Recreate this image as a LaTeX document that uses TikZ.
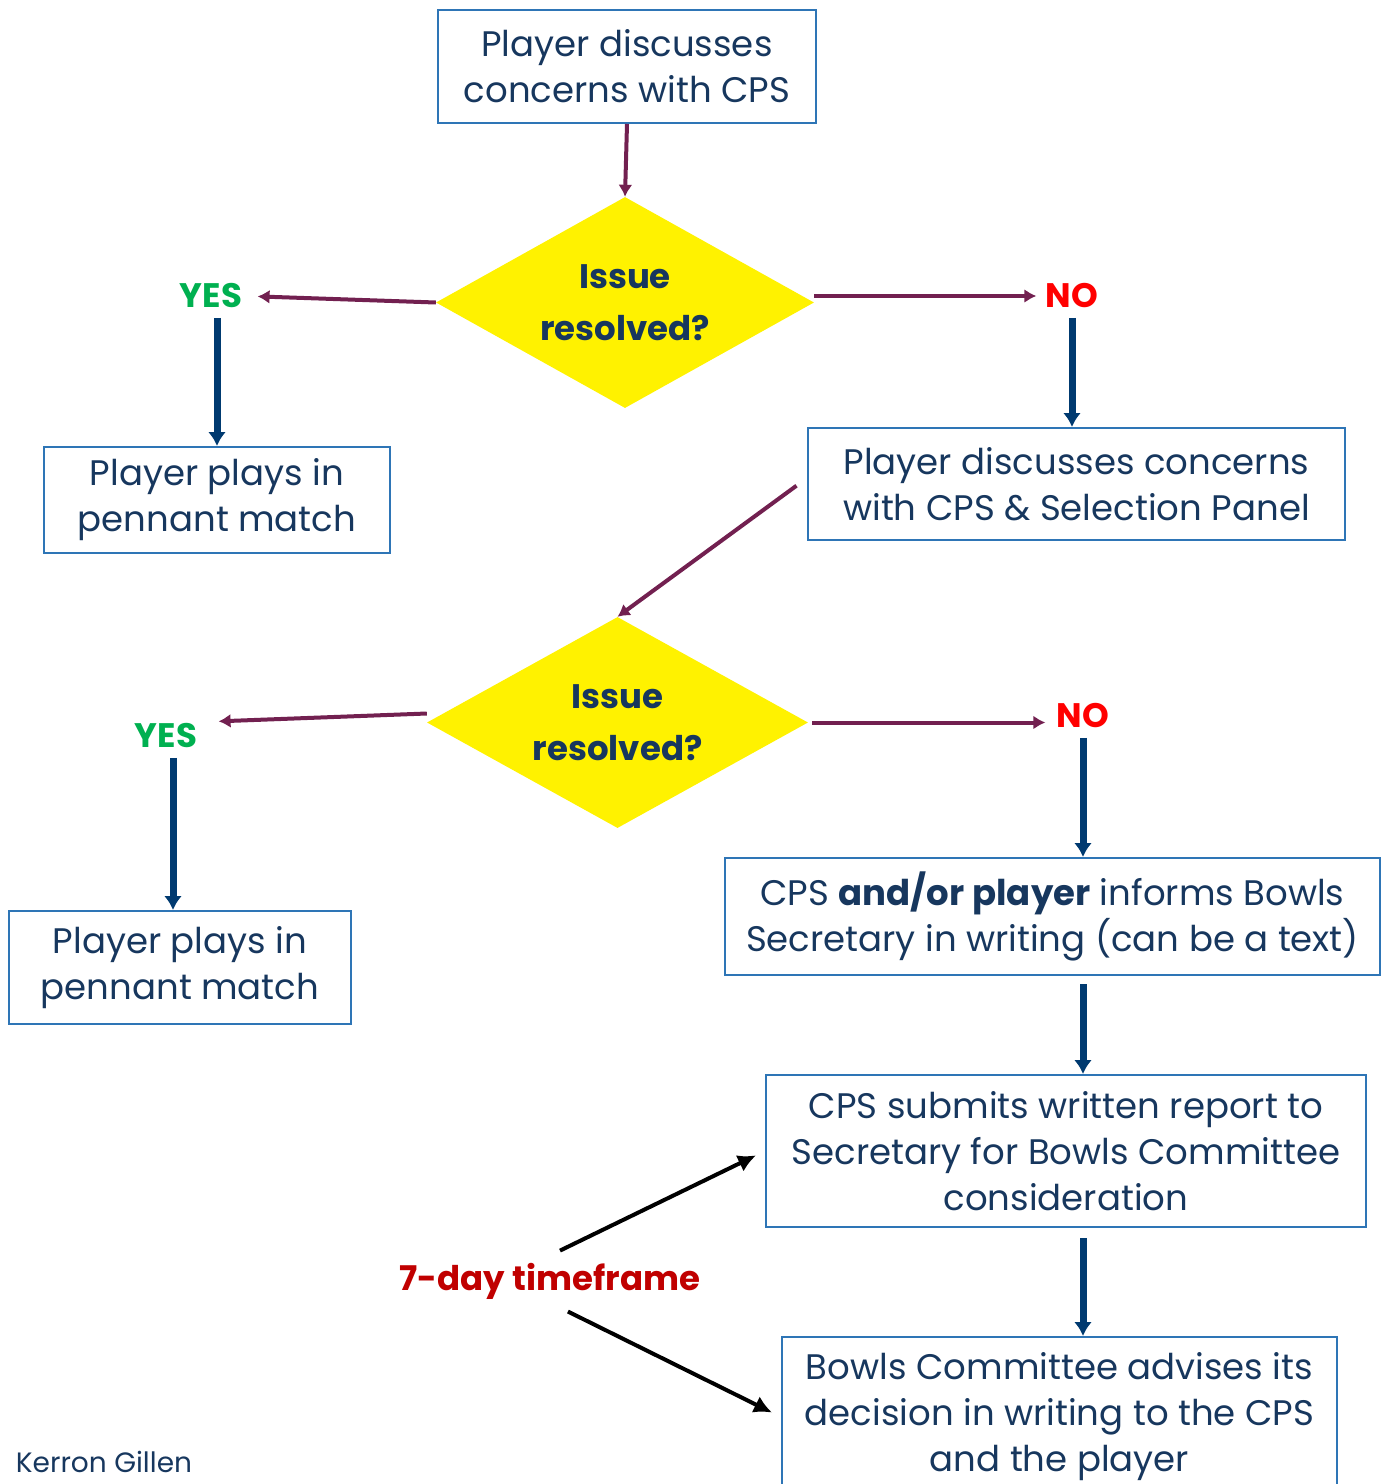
\documentclass[tikz,border=0pt]{standalone}
\usepackage{fontspec}
\setmainfont{Poppins}
\usetikzlibrary{shapes.geometric,arrows.meta}
\definecolor{boxblue}{HTML}{2E75B6}
\definecolor{txtnavy}{HTML}{17375E}
\definecolor{plum}{HTML}{722050}
\definecolor{navy}{HTML}{003A70}
\definecolor{yesgreen}{HTML}{00B050}
\definecolor{timered}{HTML}{C00000}
\begin{document}
\begin{tikzpicture}[x=1pt,y=-1pt,
  box/.style={draw=boxblue,line width=2pt,text=txtnavy,align=center,inner sep=0pt,
    font=\fontsize{35.5}{46}\selectfont},
  decision/.style={diamond,aspect=1.8,fill=yellow,inner sep=0pt,text=txtnavy,align=center,
    font=\fontsize{34}{52}\selectfont\bfseries},
  yes/.style={text=yesgreen,font=\fontsize{34}{40}\selectfont\bfseries},
  no/.style={text=red,font=\fontsize{34}{40}\selectfont\bfseries},
  thin arrow/.style={plum,line width=4pt,-{Latex[length=12pt,width=14pt]}},
  thick arrow/.style={navy,line width=7pt,-{Latex[length=14pt,width=18pt]}},
  time arrow/.style={black,line width=4pt,-{Latex[length=18pt,width=18pt]}}]
\clip (0,0) rectangle (1388,1484);
\useasboundingbox (0,0) rectangle (1388,1484);

\node[box,minimum width=378pt,minimum height=113pt] (talk1) at (627,66.5) {Player discusses\\concerns with CPS};
\node[decision,minimum width=378pt,minimum height=211pt] (q1) at (625,302.5) {Issue\\resolved?};
\node[yes] (yes1) at (211,296) {YES};
\node[no] (no1) at (1072,296) {NO};
\node[box,minimum width=346pt,minimum height=106pt] (play1) at (217,500) {Player plays in\\pennant match};
\node[box,minimum width=537pt,minimum height=112pt] (talk2) at (1076.5,484) {Player discusses concerns\\with CPS \& Selection Panel};

\node[decision,minimum width=381pt,minimum height=211pt] (q2) at (617.5,722.5) {Issue\\resolved?};
\node[yes] (yes2) at (166,736) {YES};
\node[no] (no2) at (1083,716) {NO};
\node[box,minimum width=342pt,minimum height=113pt] (play2) at (180,967.5) {Player plays in\\pennant match};
\node[box,minimum width=655pt,minimum height=117pt] (inform) at (1052.5,916.5) {CPS \textbf{and/or player} informs Bowls\\Secretary in writing (can be a text)};
\node[box,minimum width=600pt,minimum height=152pt] (report) at (1066,1151) {CPS submits written report to\\Secretary for Bowls Committee\\consideration};
\node[box,minimum width=555pt,minimum height=160pt] (advise) at (1059.5,1417) {Bowls Committee advises its\\decision in writing to the CPS\\and the player};

\node[text=timered,font=\fontsize{34}{40}\selectfont\bfseries] (days) at (550,1281) {7-day timeframe};
\node[text=txtnavy,font=\fontsize{28}{32}\selectfont,inner sep=1pt] (author) at (104,1462) {Kerron Gillen};

% first round
\draw[thin arrow] (talk1.south) -- (q1.north);
\draw[thin arrow,shorten >=12pt] (q1.west) -- (yes1.east);
\draw[thin arrow,shorten >=6pt] (q1.east |- no1.west) -- (no1.west);
\draw[thick arrow,shorten <=6pt] (play1.north |- yes1.south) -- (play1.north);
\draw[thick arrow,shorten <=6pt] (no1.south) -- (no1.south |- talk2.north);

% second round
\draw[thin arrow,shorten <=13pt] ([yshift=6pt]talk2.west) -- (q2.north);
\draw[thin arrow,shorten >=18pt] ([yshift=9pt]q2.west) -- ([yshift=14pt]yes2.east);
\draw[thin arrow,shorten >=8pt] ([xshift=4pt]q2.east) -- (q2.east -| no2.west);
\draw[thick arrow,shorten <=6pt] ([xshift=-7pt]play2.north |- yes2.south) -- ([xshift=-7pt]play2.north);
\draw[thick arrow,shorten <=6pt] (no2.south) -- (no2.south |- inform.north);
\draw[thick arrow,shorten <=8pt] (no2.south |- inform.south) -- (no2.south |- report.north);
\draw[thick arrow,shorten <=10pt] (no2.south |- report.south) -- (no2.south |- advise.north);

% timeframe
\draw[time arrow,shorten <=20pt,shorten >=10pt] ([xshift=-8pt]days.north) -- (report.west);
\draw[time arrow,shorten <=20pt,shorten >=10pt] (days.south) -- (advise.west);
\end{tikzpicture}
\end{document}
